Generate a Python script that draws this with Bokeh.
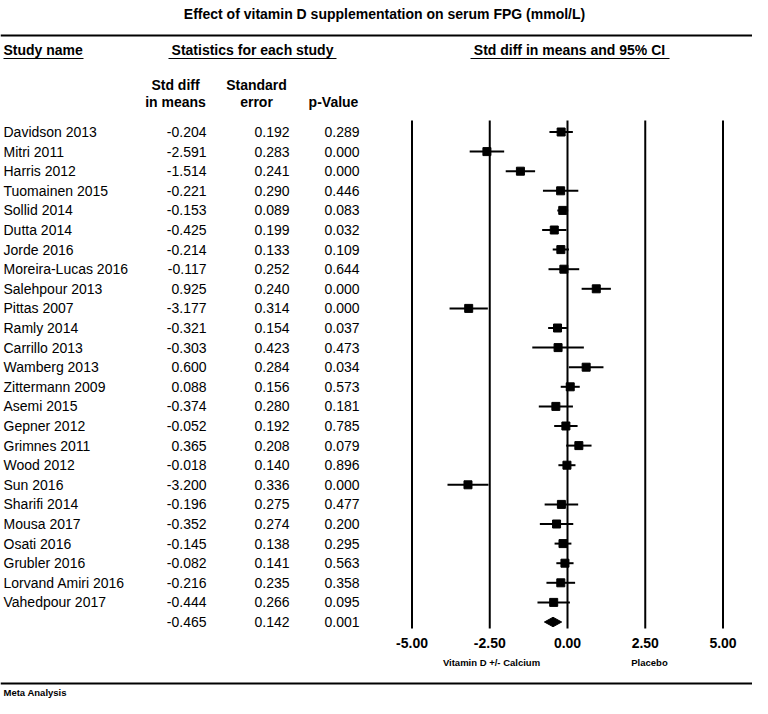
from bokeh.plotting import figure
from bokeh.models import Range1d, ColumnDataSource
from bokeh.core.properties import value
from bokeh.embed import file_html
from bokeh.resources import INLINE

studies = ["Davidson 2013", "Mitri 2011", "Harris 2012", "Tuomainen 2015", "Sollid 2014",
           "Dutta 2014", "Jorde 2016", "Moreira-Lucas 2016", "Salehpour 2013", "Pittas 2007",
           "Ramly 2014", "Carrillo 2013", "Wamberg 2013", "Zittermann 2009", "Asemi 2015",
           "Gepner 2012", "Grimnes 2011", "Wood 2012", "Sun 2016", "Sharifi 2014",
           "Mousa 2017", "Osati 2016", "Grubler 2016", "Lorvand Amiri 2016", "Vahedpour 2017"]
smd = [-0.204, -2.591, -1.514, -0.221, -0.153, -0.425, -0.214, -0.117, 0.925, -3.177,
       -0.321, -0.303, 0.600, 0.088, -0.374, -0.052, 0.365, -0.018, -3.200, -0.196,
       -0.352, -0.145, -0.082, -0.216, -0.444]
se = [0.192, 0.283, 0.241, 0.290, 0.089, 0.199, 0.133, 0.252, 0.240, 0.314,
      0.154, 0.423, 0.284, 0.156, 0.280, 0.192, 0.208, 0.140, 0.336, 0.275,
      0.274, 0.138, 0.141, 0.235, 0.266]
pval = [0.289, 0.000, 0.000, 0.446, 0.083, 0.032, 0.109, 0.644, 0.000, 0.000,
        0.037, 0.473, 0.034, 0.573, 0.181, 0.785, 0.079, 0.896, 0.000, 0.477,
        0.200, 0.295, 0.563, 0.358, 0.095]
pooled_smd = -0.465
pooled_se = 0.142
pooled_p = 0.001
axis_ticks = [-5.0, -2.5, 0.0, 2.5, 5.0]

W, H = 752, 698
PX_PER_UNIT = 31.1
ZERO_PX = 567.0
ROW0_PX = 131.5
ROW_PX = 19.6

def X(px):
    return (px - ZERO_PX) / PX_PER_UNIT

def Y(py):
    return (py - ROW0_PX) / ROW_PX

p = figure(width=W, height=H, output_backend="svg", toolbar_location=None,
           x_range=Range1d(X(0), X(W)), y_range=Range1d(Y(H), Y(0)),
           min_border=0, min_border_left=0, min_border_right=0,
           min_border_top=0, min_border_bottom=0)
p.axis.visible = False
p.grid.visible = False
p.outline_line_color = None
p.background_fill_color = "white"

FONT = value("Liberation Sans")
n = len(studies)
rows = list(range(n))
sum_row = n

# title and rules
p.text(x=[X(384)], y=[Y(13)], text=["Effect of vitamin D supplementation on serum FPG (mmol/L)"],
       text_font=FONT, text_font_size="14px", text_font_style="bold",
       text_align="center", text_baseline="middle", text_color="black")
p.segment(x0=[X(0), X(0)], y0=[Y(35), Y(683)], x1=[X(W), X(W)], y1=[Y(35), Y(683)],
          line_color="black", line_width=2)

# column headers
hdr = dict(text_font=FONT, text_font_size="14px", text_font_style="bold",
           text_baseline="middle", text_color="black")
p.text(x=[X(3)], y=[Y(49)], text=["Study name"], text_align="left", **hdr)
p.text(x=[X(252)], y=[Y(49)], text=["Statistics for each study"], text_align="center", **hdr)
p.text(x=[X(569)], y=[Y(49)], text=["Std diff in means and 95% CI"], text_align="center", **hdr)
p.segment(x0=[X(3), X(168), X(470)], y0=[Y(58)] * 3, x1=[X(83), X(336), X(669)], y1=[Y(58)] * 3,
          line_color="black", line_width=1.2)

sub = dict(text_font=FONT, text_font_size="14px", text_font_style="bold",
           text_baseline="middle", text_align="center", text_color="black")
p.text(x=[X(175), X(256)], y=[Y(84), Y(84)], text=["Std diff", "Standard"], **sub)
p.text(x=[X(175), X(256), X(333)], y=[Y(101)] * 3, text=["in means", "error", "p-Value"], **sub)

# table body
body = dict(text_font=FONT, text_font_size="14px", text_baseline="middle", text_color="black")
p.text(x=[X(3)] * n, y=rows, text=studies, text_align="left", **body)
all_rows = rows + [sum_row]
p.text(x=[X(206)] * (n + 1), y=all_rows, text=[f"{v:.3f}" for v in smd + [pooled_smd]],
       text_align="right", **body)
p.text(x=[X(289)] * (n + 1), y=all_rows, text=[f"{v:.3f}" for v in se + [pooled_se]],
       text_align="right", **body)
p.text(x=[X(359)] * (n + 1), y=all_rows, text=[f"{v:.3f}" for v in pval + [pooled_p]],
       text_align="right", **body)

# forest panel verticals
p.segment(x0=axis_ticks, x1=axis_ticks, y0=[Y(120)] * len(axis_ticks), y1=[Y(628)] * len(axis_ticks),
          line_color="black", line_width=2)

lo = [m - 1.96 * s for m, s in zip(smd, se)]
hi = [m + 1.96 * s for m, s in zip(smd, se)]
src = ColumnDataSource(dict(y=rows, m=smd, lo=lo, hi=hi))
p.segment(x0="lo", x1="hi", y0="y", y1="y", source=src, line_color="black", line_width=2)
p.scatter(x="m", y="y", source=src, marker="square", size=8, fill_color="black", line_color="black")

plo = pooled_smd - 1.96 * pooled_se
phi = pooled_smd + 1.96 * pooled_se
p.patch(x=[plo, pooled_smd, phi, pooled_smd], y=[sum_row, sum_row - 0.24, sum_row, sum_row + 0.24],
        fill_color="black", line_color="black")

# tick labels and direction labels
p.text(x=axis_ticks, y=[Y(642)] * len(axis_ticks), text=[f"{t:.2f}" for t in axis_ticks],
       text_font=FONT, text_font_size="14px", text_font_style="bold",
       text_align="center", text_baseline="middle", text_color="black")
p.text(x=[X(491), X(649)], y=[Y(662)] * 2, text=["Vitamin D +/- Calcium", "Placebo"],
       text_font=FONT, text_font_size="9.5px", text_font_style="bold",
       text_align="center", text_baseline="middle", text_color="black")
p.text(x=[X(3)], y=[Y(692)], text=["Meta Analysis"],
       text_font=FONT, text_font_size="9.5px", text_font_style="bold",
       text_align="left", text_baseline="middle", text_color="black")

open("out.html", "w").write(file_html(p, INLINE))
